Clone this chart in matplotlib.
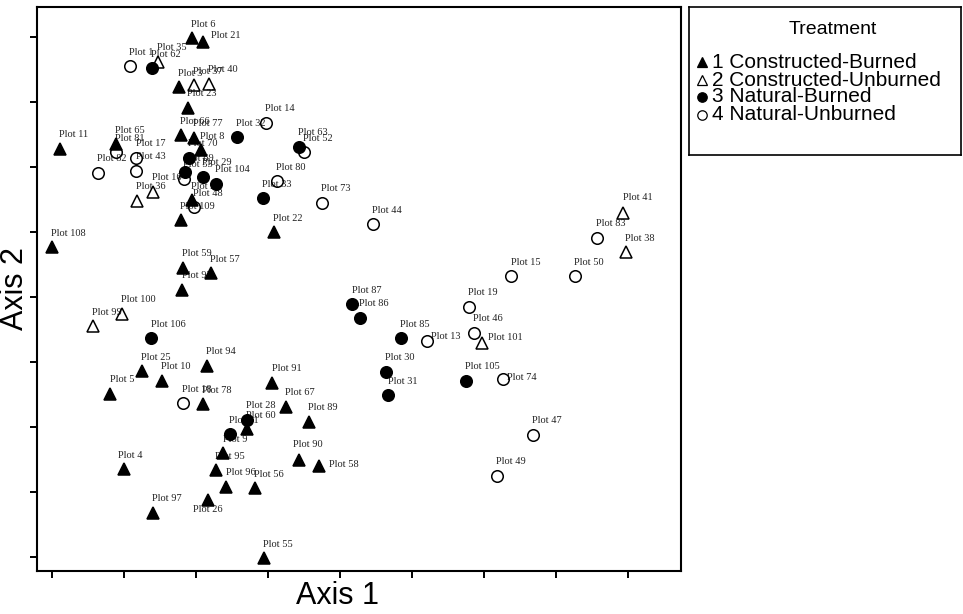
import matplotlib
matplotlib.use('Agg')
import matplotlib.pyplot as plt

# ordination scores (axis units: one tick = 1)
cb_names = ['Plot 6', 'Plot 21', 'Plot 3', 'Plot 23', 'Plot 66', 'Plot 77', 'Plot 8',
            'Plot 11', 'Plot 65', 'Plot 108', 'Plot 2', 'Plot 109', 'Plot 22', 'Plot 59',
            'Plot 57', 'Plot 92', 'Plot 25', 'Plot 10', 'Plot 94', 'Plot 5', 'Plot 78',
            'Plot 91', 'Plot 67', 'Plot 60', 'Plot 89', 'Plot 9', 'Plot 95', 'Plot 96',
            'Plot 56', 'Plot 90', 'Plot 58', 'Plot 4', 'Plot 97', 'Plot 26', 'Plot 55']
cb_x = [1.94, 2.10, 1.76, 1.89, 1.79, 1.97, 2.07, 0.11, 0.89, 0.00, 1.94, 1.79, 3.08, 1.82,
        2.21, 1.81, 1.25, 1.53, 2.15, 0.81, 2.10, 3.06, 3.25, 2.71, 3.57, 2.38, 2.28, 2.42,
        2.82, 3.43, 3.71, 1.00, 1.40, 2.17, 2.94]
cb_y = [7.98, 7.92, 7.23, 6.91, 6.49, 6.45, 6.26, 6.28, 6.35, 4.77, 5.49, 5.18, 5.00, 4.45,
        4.37, 4.11, 2.86, 2.71, 2.94, 2.51, 2.35, 2.68, 2.31, 1.97, 2.08, 1.60, 1.34, 1.08,
        1.06, 1.49, 1.40, 1.35, 0.68, 0.88, -0.02]

cu_names = ['Plot 35', 'Plot 37', 'Plot 40', 'Plot 36', 'Plot 16', 'Plot 100', 'Plot 99',
            'Plot 101', 'Plot 41', 'Plot 38']
cu_x = [1.47, 1.97, 2.18, 1.18, 1.40, 0.97, 0.57, 5.97, 7.93, 7.97]
cu_y = [7.62, 7.26, 7.28, 5.48, 5.62, 3.74, 3.55, 3.29, 5.29, 4.69]

nb_names = ['Plot 62', 'Plot 32', 'Plot 63', 'Plot 70', 'Plot 69', 'Plot 29', 'Plot 104',
            'Plot 33', 'Plot 87', 'Plot 86', 'Plot 85', 'Plot 30', 'Plot 31', 'Plot 105',
            'Plot 106', 'Plot 28', 'Plot 61']
nb_x = [1.39, 2.57, 3.43, 1.90, 1.85, 2.10, 2.28, 2.93, 4.17, 4.28, 4.85, 4.64, 4.67, 5.75,
        1.38, 2.71, 2.47]
nb_y = [7.52, 6.46, 6.31, 6.14, 5.92, 5.85, 5.74, 5.52, 3.89, 3.68, 3.37, 2.85, 2.49, 2.71,
        3.37, 2.11, 1.89]

nu_names = ['Plot 1', 'Plot 14', 'Plot 52', 'Plot 81', 'Plot 17', 'Plot 43', 'Plot 82',
            'Plot 53', 'Plot 48', 'Plot 80', 'Plot 73', 'Plot 44', 'Plot 15', 'Plot 50',
            'Plot 83', 'Plot 19', 'Plot 46', 'Plot 13', 'Plot 74', 'Plot 47', 'Plot 49',
            'Plot 18']
nu_x = [1.08, 2.97, 3.50, 0.89, 1.17, 1.17, 0.64, 1.83, 1.97, 3.12, 3.75, 4.46, 6.38, 7.26,
        7.57, 5.79, 5.86, 5.21, 6.26, 6.68, 6.18, 1.82]
nu_y = [7.55, 6.68, 6.23, 6.23, 6.14, 5.94, 5.91, 5.82, 5.38, 5.78, 5.45, 5.12, 4.32, 4.32,
        4.91, 3.85, 3.45, 3.32, 2.74, 1.88, 1.25, 2.37]

treatments = ['1 Constructed-Burned', '2 Constructed-Unburned',
              '3 Natural-Burned', '4 Natural-Unburned']

# label offsets in points; everything else sits just above its marker
default_off = (-0.5, 10)
label_off = {'Plot 21': (5.8, 5), 'Plot 26': (-10.8, -7.2), 'Plot 58': (7.2, 1.4),
             'Plot 74': (2.9, 0.7), 'Plot 13': (2.9, 3.6), 'Plot 101': (4.3, 4.3),
             'Plot 90': (-4.3, 11.5), 'Plot 4': (-4.3, 10), 'Plot 41': (0, 11)}

W, H = 963, 614
fig = plt.figure(figsize=(W / 100, H / 100), dpi=100)
ax = fig.add_axes([37 / W, 1 - 571 / H, (681 - 37) / W, (571 - 7) / H])

groups = [
    (cb_names, cb_x, cb_y, '^', 'black', 9.0),
    (cu_names, cu_x, cu_y, '^', 'none', 9.0),
    (nb_names, nb_x, nb_y, 'o', 'black', 8.3),
    (nu_names, nu_x, nu_y, 'o', 'none', 8.3),
]

for names, xs, ys, mk, fc, ms in groups:
    ax.plot(xs, ys, linestyle='none', marker=mk, markersize=ms, markerfacecolor=fc,
            markeredgecolor='black', markeredgewidth=1.1, zorder=3)
    for n, x, y in zip(names, xs, ys):
        off = label_off.get(n, default_off)
        ax.annotate(n, (x, y), xytext=off, textcoords='offset points',
                    ha='left', va='center', fontsize=7.5, family='Liberation Serif',
                    color='#222222', zorder=2)

ax.set_xlim(-0.208, 8.736)
ax.set_ylim(-0.215, 8.46)
ax.set_xticks(range(0, 9))
ax.set_yticks(range(0, 9))
ax.tick_params(direction='out', length=5, width=1.4, labelbottom=False, labelleft=False)
for s in ax.spines.values():
    s.set_linewidth(1.5)

fig.text(337 / W, 1 - 596 / H, 'Axis 1', ha='center', va='center', fontsize=22,
         family='Liberation Sans')
fig.text(15 / W, 1 - 289 / H, 'Axis 2', ha='center', va='center', fontsize=22,
         family='Liberation Sans', rotation=90)

# legend drawn by hand in pixel units
lax = fig.add_axes([689 / W, 1 - 155 / H, (961 - 689) / W, (155 - 7) / H])
lax.set_xlim(689, 961)
lax.set_ylim(155, 7)
lax.set_xticks([])
lax.set_yticks([])
for s in lax.spines.values():
    s.set_linewidth(1.2)
lax.text(833, 30, 'Treatment', ha='center', va='center', fontsize=14, family='Liberation Sans')
leg_marks = [('^', 'black', 7.6), ('^', 'none', 7.6), ('o', 'black', 6.8), ('o', 'none', 6.8)]
leg_y = [62, 80, 97, 115]
for (mk, fc, ms), ty, lab in zip(leg_marks, leg_y, treatments):
    lax.plot([702], [ty], marker=mk, markersize=ms, markerfacecolor=fc,
             markeredgecolor='black', markeredgewidth=0.9, linestyle='none')
    lax.text(712, ty, lab, ha='left', va='center', fontsize=15, family='Liberation Sans')

fig.savefig('out.png', dpi=100)
